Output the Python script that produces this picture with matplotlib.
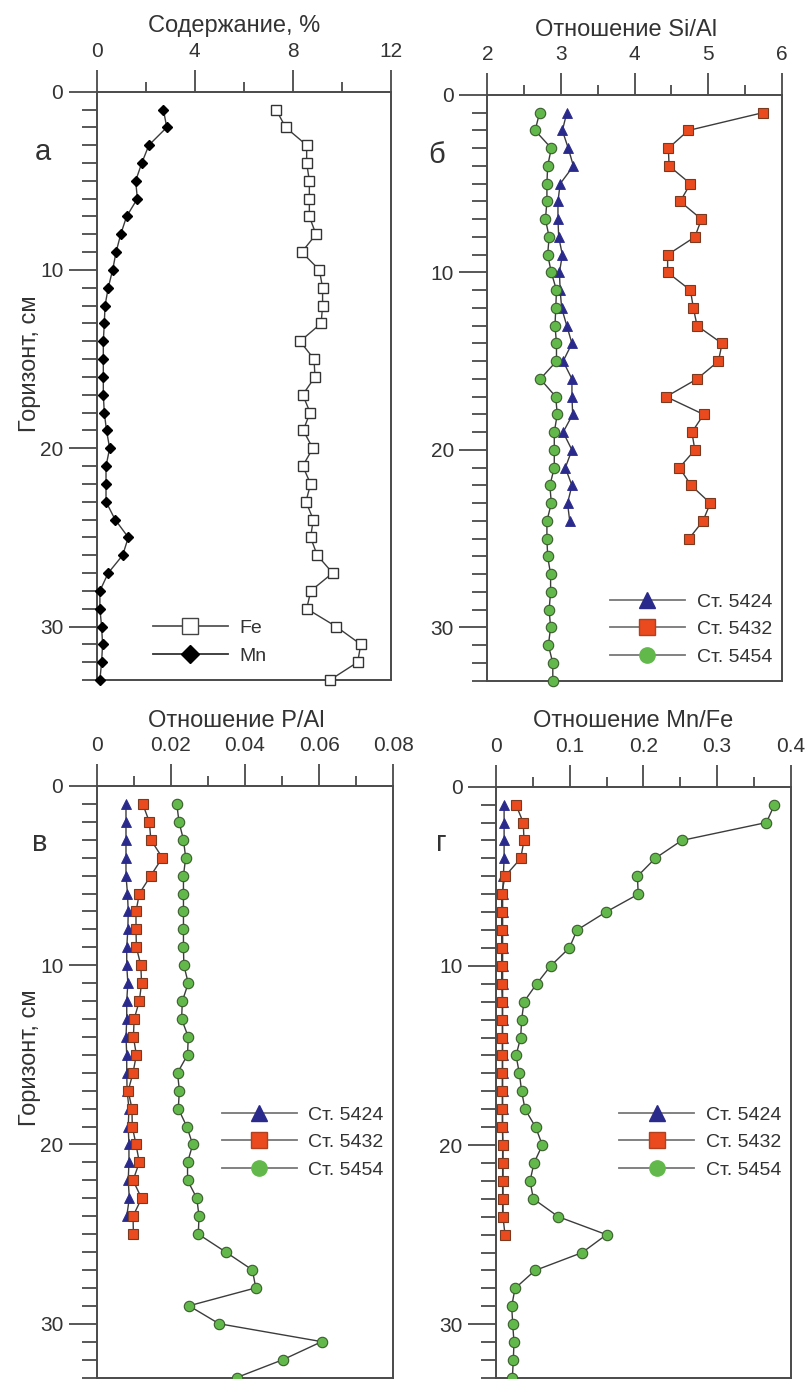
import matplotlib
matplotlib.use("Agg")
import matplotlib.pyplot as plt
from matplotlib.ticker import MultipleLocator
from matplotlib.lines import Line2D

plt.rcParams['font.family'] = ['Liberation Sans', 'DejaVu Sans']

# ---------------- data ----------------
depth = list(range(1, 34))

# panel а: content, %
fe = [7.32, 7.71, 8.57, 8.57, 8.68, 8.68, 8.68, 8.95, 8.37, 9.09, 9.22, 9.22, 9.16,
      8.30, 8.87, 8.91, 8.41, 8.71, 8.43, 8.82, 8.41, 8.73, 8.54, 8.84, 8.73, 9.00,
      9.63, 8.74, 8.57, 9.77, 10.78, 10.65, 9.52]
mn = [2.72, 2.86, 2.13, 1.84, 1.59, 1.66, 1.22, 0.98, 0.79, 0.65, 0.47, 0.34, 0.31,
      0.27, 0.27, 0.27, 0.27, 0.31, 0.40, 0.53, 0.38, 0.38, 0.38, 0.75, 1.29, 1.06,
      0.47, 0.13, 0.13, 0.20, 0.24, 0.20, 0.13]

# panel б: Si/Al
si_5424 = [3.08, 3.02, 3.10, 3.17, 2.99, 2.96, 2.96, 2.97, 3.02, 2.98, 2.99, 3.01,
           3.08, 3.15, 3.03, 3.15, 3.15, 3.16, 3.03, 3.15, 3.06, 3.15, 3.09, 3.12]
si_5432 = [5.74, 4.73, 4.46, 4.47, 4.76, 4.62, 4.91, 4.82, 4.45, 4.45, 4.76, 4.80,
           4.85, 5.19, 5.14, 4.85, 4.43, 4.94, 4.78, 4.82, 4.61, 4.77, 5.03, 4.93, 4.74]
si_5454 = [2.71, 2.65, 2.87, 2.82, 2.81, 2.81, 2.79, 2.84, 2.82, 2.87, 2.94, 2.93,
           2.92, 2.94, 2.94, 2.72, 2.93, 2.95, 2.91, 2.91, 2.91, 2.85, 2.87, 2.81,
           2.81, 2.82, 2.86, 2.86, 2.84, 2.86, 2.83, 2.89, 2.89]

# panel в: P/Al
p_5424 = [0.0079, 0.0079, 0.0079, 0.0079, 0.0079, 0.0083, 0.0085, 0.0084, 0.0081,
          0.0081, 0.0084, 0.0081, 0.0081, 0.0079, 0.0081, 0.0081, 0.0082, 0.0087,
          0.0085, 0.0087, 0.0087, 0.0085, 0.0088, 0.0081]
p_5432 = [0.0124, 0.0142, 0.0146, 0.0177, 0.0146, 0.0115, 0.0106, 0.0106, 0.0107,
          0.0119, 0.0121, 0.0115, 0.0101, 0.0099, 0.0107, 0.0098, 0.0085, 0.0095,
          0.0096, 0.0106, 0.0115, 0.0098, 0.0121, 0.0098, 0.0099]
p_5454 = [0.0216, 0.0222, 0.0234, 0.0240, 0.0234, 0.0234, 0.0234, 0.0234, 0.0234,
          0.0235, 0.0247, 0.0231, 0.0229, 0.0247, 0.0245, 0.0218, 0.0223, 0.0220,
          0.0243, 0.0259, 0.0245, 0.0245, 0.0270, 0.0276, 0.0274, 0.0348, 0.0420,
          0.0429, 0.0249, 0.0330, 0.0607, 0.0503, 0.0378]

# panel г: Mn/Fe
mnfe_5424 = [0.011, 0.011, 0.011, 0.011, 0.010, 0.009, 0.009, 0.009, 0.009, 0.009,
             0.009, 0.009, 0.009, 0.009, 0.009, 0.009, 0.009, 0.009, 0.009, 0.009,
             0.009, 0.009, 0.009, 0.009]
mnfe_5432 = [0.027, 0.037, 0.038, 0.0335, 0.0122, 0.0077, 0.0077, 0.0077, 0.0077,
             0.0077, 0.0077, 0.0086, 0.0086, 0.0086, 0.0086, 0.0086, 0.0086, 0.0086,
             0.0086, 0.0095, 0.0095, 0.0095, 0.0095, 0.0095, 0.0122]
mnfe_5454 = [0.378, 0.367, 0.252, 0.216, 0.192, 0.193, 0.149, 0.110, 0.0995, 0.0742,
             0.0552, 0.038, 0.0348, 0.0335, 0.0272, 0.0317, 0.0348, 0.0394, 0.0538,
             0.0629, 0.0516, 0.0462, 0.0507, 0.0846, 0.150, 0.117, 0.0529, 0.0258,
             0.0213, 0.0227, 0.0244, 0.0235, 0.0222]

station_labels = ['Ст. 5424', 'Ст. 5432', 'Ст. 5454']

# ---------------- figure ----------------
W, H = 808, 1379
fig = plt.figure(figsize=(W / 100, H / 100), dpi=100)

def axes_px(x0, x1, ytop, ybot):
    return fig.add_axes([x0 / W, 1 - ybot / H, (x1 - x0) / W, (ybot - ytop) / H])

ax_a = axes_px(96.7, 390.7, 91.7, 680.0)
ax_b = axes_px(487.3, 781.7, 95.0, 680.7)
ax_v = axes_px(96.7, 393.3, 786.0, 1377.5)
ax_g = axes_px(496.0, 790.7, 786.7, 1378.0)

SPINE = '#4a4a4a'
LINE = '#3c3c3c'
TXT = '#333333'
BLUE = '#2a2a8c'
RED = '#ea4a1e'
GREEN = '#62b84a'
GREEN_E = '#3a5e2c'
RED_E = '#7a3a20'
TICKFS = 15
TITLEFS = 17
LEGFS = 14

def style(ax, xlim, xmaj, xmin, xlabels, title, title_x):
    ax.set_ylim(33, 0)
    ax.set_xlim(*xlim)
    ax.xaxis.set_ticks_position('top')
    ax.xaxis.set_label_position('top')
    ax.set_xticks(xmaj)
    ax.set_xticklabels(xlabels)
    ax.xaxis.set_minor_locator(MultipleLocator(xmin))
    ax.set_yticks([0, 10, 20, 30])
    ax.set_yticklabels(['0', '10', '20', '30'])
    ax.yaxis.set_minor_locator(MultipleLocator(1))
    ax.tick_params(axis='x', which='major', direction='out', length=16, width=1.3,
                   color=SPINE, labelsize=TICKFS, pad=6, labelcolor=TXT)
    ax.tick_params(axis='x', which='minor', direction='out', length=7, width=1.3,
                   color=SPINE)
    ax.tick_params(axis='y', which='major', direction='out', length=20, width=1.3,
                   color=SPINE, labelsize=TICKFS, pad=4, labelcolor=TXT)
    ax.tick_params(axis='y', which='minor', direction='out', length=11, width=1.3,
                   color=SPINE)
    for s in ax.spines.values():
        s.set_color(SPINE)
        s.set_linewidth(1.4)
    ax.set_xlabel(title, fontsize=TITLEFS, labelpad=7, color=TXT)
    ax.xaxis.label.set_x(title_x)

def station_plot(ax, xb, xr, xg):
    db = depth[:len(xb)]
    dr = depth[:len(xr)]
    dg = depth[:len(xg)]
    ax.plot(xb, db, '-^', color=LINE, lw=1.0, ms=7.5, mfc=BLUE, mec=BLUE,
            mew=0.6, clip_on=False, zorder=3, label=station_labels[0])
    ax.plot(xr, dr, '-s', color=LINE, lw=1.0, ms=7, mfc=RED, mec=RED_E,
            mew=0.8, clip_on=False, zorder=4, label=station_labels[1])
    ax.plot(xg, dg, '-o', color=LINE, lw=1.0, ms=7.5, mfc=GREEN, mec=GREEN_E,
            mew=0.8, clip_on=False, zorder=5, label=station_labels[2])

def station_legend(ax, loc_px):
    handles = [
        Line2D([], [], color='#777777', lw=1.3, marker='^', ms=11, mfc=BLUE, mec=BLUE),
        Line2D([], [], color='#777777', lw=1.3, marker='s', ms=11, mfc=RED, mec='#b04020'),
        Line2D([], [], color='#777777', lw=1.3, marker='o', ms=11, mfc=GREEN, mec=GREEN),
    ]
    x, y = loc_px
    leg = ax.legend(handles, station_labels, loc='upper left',
                    bbox_to_anchor=(x / W, 1 - y / H), bbox_transform=fig.transFigure,
                    frameon=False, fontsize=LEGFS, handlelength=3.85, handletextpad=0.6,
                    labelspacing=0.51, borderpad=0, borderaxespad=0)
    for t in leg.get_texts():
        t.set_color(TXT)

def ylabel(ax, yfrac):
    ax.set_ylabel('Горизонт, см', fontsize=TITLEFS, color=TXT)
    ax.yaxis.set_label_coords(-0.189, yfrac)

# panel а
style(ax_a, (0, 12), [0, 4, 8, 12], 2, ['0', '4', '8', '12'], 'Содержание, %', 0.467)
ax_a.plot(fe, depth, '-s', color=LINE, lw=1.0, ms=7, mfc='white', mec='#333333',
          mew=1.0, clip_on=False, zorder=4, label='Fe')
ax_a.plot(mn, depth, '-D', color=LINE, lw=1.0, ms=5.5, mfc='black', mec='black',
          clip_on=False, zorder=4, label='Mn')
ha = [Line2D([], [], color='#555555', lw=1.3, marker='s', ms=12, mfc='white', mec='#444444', mew=1.0),
      Line2D([], [], color='#333333', lw=1.3, marker='D', ms=9, mfc='black', mec='black')]
leg_a = ax_a.legend(ha, ['Fe', 'Mn'], loc='upper left', bbox_to_anchor=(153 / W, 1 - 619 / H),
                    bbox_transform=fig.transFigure, frameon=False, fontsize=LEGFS,
                    handlelength=3.85, handletextpad=0.6, labelspacing=0.55,
                    borderpad=0, borderaxespad=0)
for t in leg_a.get_texts():
    t.set_color(TXT)
ylabel(ax_a, 0.537)

# panel б
style(ax_b, (2, 6), [2, 3, 4, 5, 6], 0.5, ['2', '3', '4', '5', '6'], 'Отношение Si/Al', 0.473)
station_plot(ax_b, si_5424, si_5432, si_5454)
station_legend(ax_b, (610, 593))

# panel в
style(ax_v, (0, 0.08), [0, 0.02, 0.04, 0.06, 0.08], 0.01,
      ['0', '0.02', '0.04', '0.06', '0.08'], 'Отношение P/Al', 0.472)
station_plot(ax_v, p_5424, p_5432, p_5454)
station_legend(ax_v, (221.7, 1106))
ylabel(ax_v, 0.54)

# panel г
style(ax_g, (0, 0.4), [0, 0.1, 0.2, 0.3, 0.4], 0.05,
      ['0', '0.1', '0.2', '0.3', '0.4'], 'Отношение Mn/Fe', 0.465)
station_plot(ax_g, mnfe_5424, mnfe_5432, mnfe_5454)
station_legend(ax_g, (619.3, 1106))

# panel letters
for txt, (x, y) in [('а', (43, 152)), ('б', (437, 155)), ('в', (40, 843)), ('г', (441, 843))]:
    fig.text(x / W, 1 - y / H, txt, fontsize=21, color=TXT, ha='center', va='center')

fig.savefig('out.png', dpi=100)
